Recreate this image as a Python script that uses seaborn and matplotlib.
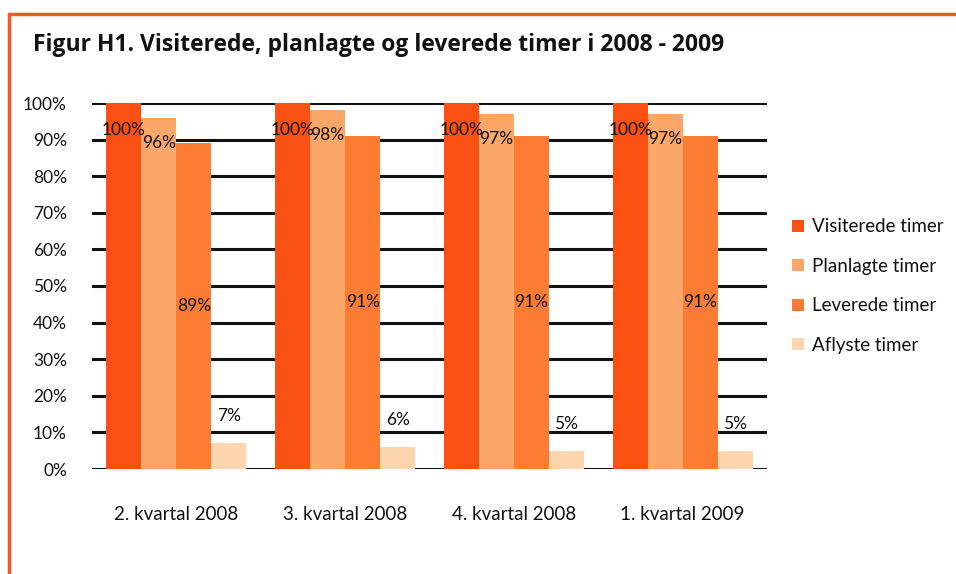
import matplotlib
matplotlib.use("Agg")
import matplotlib.pyplot as plt
import seaborn as sns
import pandas as pd
from matplotlib.patches import Patch
from matplotlib.lines import Line2D

categories = ["2. kvartal 2008", "3. kvartal 2008", "4. kvartal 2008", "1. kvartal 2009"]
series_names = ["Visiterede timer", "Planlagte timer", "Leverede timer", "Aflyste timer"]
visiterede = [100, 100, 100, 100]
planlagte = [96, 98, 97, 97]
leverede = [89, 91, 91, 91]
aflyste = [7, 6, 5, 5]
colors = ["#FA5014", "#FCA76A", "#FD7C33", "#FDD5AE"]
yticks = [0, 10, 20, 30, 40, 50, 60, 70, 80, 90, 100]
title = "Figur H1. Visiterede, planlagte og leverede timer i 2008 - 2009"

rows = []
for name, vals in zip(series_names, [visiterede, planlagte, leverede, aflyste]):
    for c, v in zip(categories, vals):
        rows.append({"kvartal": c, "serie": name, "pct": v})
df = pd.DataFrame(rows)

sns.set_theme(style="white")
plt.rcParams["font.family"] = ["Lato", "DejaVu Sans"]

fig = plt.figure(figsize=(9.56, 5.74), dpi=100)
ax = fig.add_axes([92 / 956, 1 - 469 / 574, (767 - 92) / 956, (469 - 103) / 574])

sns.barplot(data=df, x="kvartal", y="pct", hue="serie", order=categories,
            hue_order=series_names, palette=colors, width=0.83, saturation=1,
            errorbar=None, ax=ax, legend=False, zorder=3, linewidth=0, edgecolor="none")

ax.set_ylim(0, 100)
ax.set_yticks(yticks)
ax.set_yticklabels([f"{t}%" for t in yticks], fontsize=12.5, color="#111111")
ax.tick_params(axis="x", labelsize=13.5, pad=27, colors="#111111", length=0)
ax.tick_params(axis="y", length=0, pad=18)
ax.set_xlabel("")
ax.set_ylabel("")
for s in ax.spines.values():
    s.set_visible(False)
for t in yticks:
    ax.axhline(t, color="#111111", lw=2.2, zorder=1)

# data labels
offsets = {0: ("inside", -27), 1: ("inside", -25), 2: ("center", 0), 3: ("above", 27)}
for i, cont in enumerate(ax.containers):
    mode, off = offsets[i]
    for bar in cont:
        h = bar.get_height()
        x = bar.get_x() + bar.get_width() / 2
        if mode == "center":
            ax.annotate(f"{h:.0f}%", (x, h / 2), ha="center", va="center",
                        fontsize=12.5, color="#111111", zorder=5)
        else:
            ax.annotate(f"{h:.0f}%", (x, h), xytext=(0, off), textcoords="offset pixels",
                        ha="center", va="center", fontsize=12.5, color="#111111", zorder=5)

handles = [Patch(facecolor=c, edgecolor="none") for c in colors]
fig.legend(handles, series_names, loc="center left", bbox_to_anchor=(783 / 956, 1 - 286 / 574),
           frameon=False, fontsize=13.5, labelspacing=1.2, handlelength=0.6, handleheight=0.6,
           handletextpad=0.45, borderpad=0, labelcolor="#111111")

fig.text(33 / 956, 1 - 45 / 574, title, fontsize=16.5, fontweight="bold",
         va="center", ha="left", color="#111111", family=["Open Sans", "DejaVu Sans"])

# orange frame (top and left)
fig.add_artist(Line2D([8.5 / 956, 1.0], [1 - 14 / 574, 1 - 14 / 574], transform=fig.transFigure,
                      color="#FA5522", lw=2.5))
fig.add_artist(Line2D([8.5 / 956, 8.5 / 956], [0, 1 - 14 / 574], transform=fig.transFigure,
                      color="#FA5522", lw=2.5))

fig.savefig("out.png", dpi=100)
